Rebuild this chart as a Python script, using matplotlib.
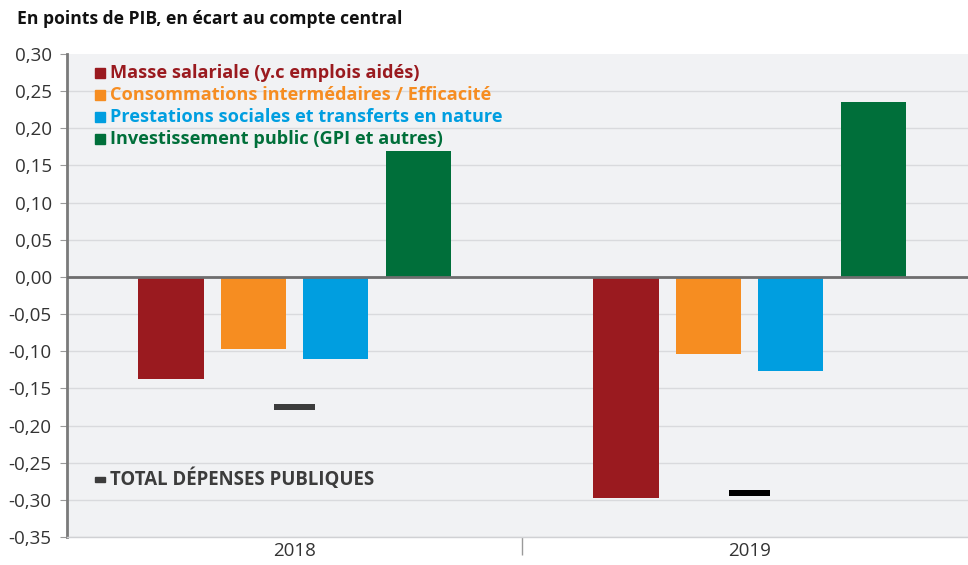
import matplotlib
matplotlib.use("Agg")
import matplotlib.pyplot as plt
import numpy as np

years = ["2018", "2019"]
series_names = [
    "Masse salariale (y.c emplois aidés)",
    "Consommations intermédaires / Efficacité",
    "Prestations sociales et transferts en nature",
    "Investissement public (GPI et autres)",
]
masse = [-0.137, -0.297]
conso = [-0.097, -0.104]
prest = [-0.110, -0.127]
invest = [0.170, 0.236]
total = [-0.175, -0.291]
colors = ["#9a1a1f", "#f68d21", "#009ee0", "#006f3a"]
total_colors = ["#3c3c3c", "#000000"]
yticks = [0.30, 0.25, 0.20, 0.15, 0.10, 0.05, 0.00, -0.05, -0.10, -0.15, -0.20, -0.25, -0.30, -0.35]

plt.rcParams['font.family'] = ['Open Sans', 'DejaVu Sans']

fig = plt.figure(figsize=(9.68, 5.65), dpi=100)
W, H = 968, 565
ax = fig.add_axes([67 / W, 1 - 537 / H, (977 - 67) / W, (537 - 54) / H])
ax.set_facecolor("#f1f2f4")

x = np.arange(len(years))
bw = 0.143
step = 0.181
offs = [-1.5, -0.5, 0.5, 1.5]
for vals, c, o in zip([masse, conso, prest, invest], colors, offs):
    ax.bar(x + o * step, vals, width=bw, color=c, zorder=3)

ax.bar(x, [0.008] * 2, width=0.092, bottom=np.array(total) - 0.004,
       color=total_colors, zorder=4)

ax.set_xlim(-0.5, 1.5)
ax.set_ylim(-0.35, 0.30)
ax.set_yticks(yticks)
ax.set_yticklabels([f"{v:.2f}".replace(".", ",") for v in yticks],
                   fontsize=13.5, color="#333333")
ax.yaxis.grid(True, color="#d9dadd", linewidth=1, zorder=0)
ax.get_ygridlines()[0].set_visible(False)
ax.set_axisbelow(True)
ax.tick_params(axis="y", length=5, color="#9a9a9a", pad=6)
ax.axhline(0, color="#6e6e6e", linewidth=2, zorder=5)

ax.set_xticks([0.5], labels=[""])
ax.tick_params(axis="x", length=13, color="#9a9a9a", width=1)
for xi, y in zip(x, years):
    ax.text(xi, -0.357, y, ha="center", va="top", fontsize=13.5, color="#333333",
            transform=ax.transData)

for s in ["top", "right"]:
    ax.spines[s].set_visible(False)
ax.spines["left"].set_color("#7a7a7a")
ax.spines["left"].set_linewidth(2)
ax.spines["bottom"].set_color("#d0d1d4")
ax.spines["bottom"].set_linewidth(1)

fig.text(17 / W, 1 - 19 / H, "En points de PIB, en écart au compte central",
         fontsize=12.6, fontweight="bold", color="#111111", va="center", ha="left")

leg_y = [73, 95, 117, 139]
for name, c, yy in zip(series_names, colors, leg_y):
    fig.patches.append(plt.Rectangle((95 / W, 1 - (yy + 5) / H), 10 / W, 10 / H,
                                     transform=fig.transFigure, color=c))
    fig.text(110 / W, 1 - yy / H, name, fontsize=13.1, fontweight="bold",
             color=c, va="center", ha="left")

fig.patches.append(plt.Rectangle((95 / W, 1 - 482 / H), 10 / W, 5 / H,
                                 transform=fig.transFigure, color="#3c3c3c"))
fig.text(110 / W, 1 - 479 / H, "TOTAL DÉPENSES PUBLIQUES", fontsize=13.4,
         fontweight="bold", color="#3c3c3c", va="center", ha="left")

fig.savefig("out.png", dpi=100)
